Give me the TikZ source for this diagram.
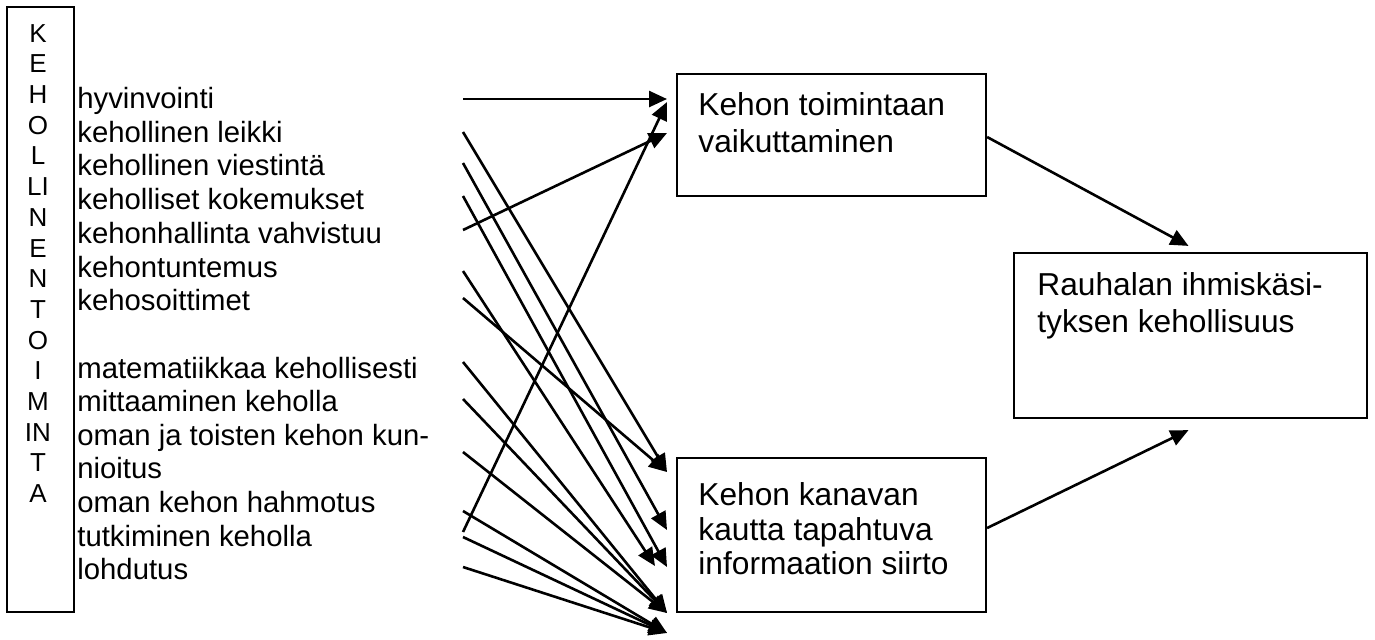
\documentclass[tikz,border=0pt]{standalone}
\usepackage{fontspec}
\setmainfont{Liberation Sans}
\usetikzlibrary{arrows.meta,calc}
\begin{document}
\begin{tikzpicture}[x=0.5pt,y=-0.5pt,
  frame/.style={draw=black, line width=1.1pt, rectangle, inner sep=0pt},
  listtext/.style={anchor=base west, inner sep=0pt, font=\fontsize{14.65pt}{16.7pt}\selectfont},
  boxtext/.style={anchor=base west, inner sep=0pt, font=\fontsize{15.85pt}{18pt}\selectfont},
  letter/.style={anchor=base, inner sep=0pt, font=\fontsize{13pt}{15pt}\selectfont},
  conn/.style={line width=1.3pt, -{Triangle[length=9pt,width=8pt]}}]
\useasboundingbox (0,0) rectangle (1375,639);

% vertical frame with letters
\node[frame, minimum width=33.5pt, minimum height=302.5pt] (side) at (40.5,309.5) {};
\foreach \t [count=\i from 0] in {K,E,H,O,L,LI,N,E,N,T,O,I,M,IN,T,A}
  \node[letter] (v\i) at (38,{42.3+30.67*\i}) {\t};

% list
\node[listtext] (i1) at (77,108.3) {hyvinvointi};
\node[listtext] (i2) at (77,142) {kehollinen leikki};
\node[listtext] (i3) at (77,175.8) {kehollinen viestintä};
\node[listtext] (i4) at (77,209.5) {keholliset kokemukset};
\node[listtext] (i5) at (77,243.3) {kehonhallinta vahvistuu};
\node[listtext] (i6) at (77,277) {kehontuntemus};
\node[listtext] (i7) at (77,310.8) {kehosoittimet};
\node[listtext] (i8) at (77,378) {matematiikkaa kehollisesti};
\node[listtext] (i9) at (77,411.6) {mittaaminen keholla};
\node[listtext] (i10) at (77,445.2) {oman ja toisten kehon kun-};
\node[listtext] (i10b) at (77,478.8) {nioitus};
\node[listtext] (i11) at (77,512.4) {oman kehon hahmotus};
\node[listtext] (i12) at (77,546) {tutkiminen keholla};
\node[listtext] (i13) at (77,579.6) {lohdutus};

% boxes
\node[frame, minimum width=154.5pt, minimum height=61pt] (b1) at (831.5,135) {};
\node[frame, minimum width=154.5pt, minimum height=77pt] (b2) at (831.5,535) {};
\node[frame, minimum width=176.5pt, minimum height=82.5pt] (r) at (1190.5,335.5) {};

\node[boxtext] (b1a) at (698,115) {Kehon toimintaan};
\node[boxtext] (b1b) at (698,152) {vaikuttaminen};
\node[boxtext] (b2a) at (698,505) {Kehon kanavan};
\node[boxtext] (b2b) at (698,540) {kautta tapahtuva};
\node[boxtext] (b2c) at (698,574) {informaation siirto};
\node[boxtext] (ra) at (1037,295) {Rauhalan ihmiskäsi-};
\node[boxtext] (rb) at (1037,332) {tyksen kehollisuus};

% start points
\coordinate (s1) at (463,99);
\coordinate (s2) at (463,132);
\coordinate (s3) at (463,163);
\coordinate (s4) at (463,196);
\coordinate (s5) at (463,230);
\coordinate (s6) at (463,271);
\coordinate (s7) at (463,298);
\coordinate (s8) at (463,362);
\coordinate (s9) at (463,399);
\coordinate (s10) at (463,452);
\coordinate (s11) at (463,511);
\coordinate (s12) at (463,532);
\coordinate (s13) at (463,537);
\coordinate (s14) at (463,567);

% tips
\coordinate (e1) at (667,99);
\coordinate (e2) at (667,133);
\coordinate (e3) at (667,102);
\coordinate (t1) at (667,472);
\coordinate (t2) at (667,530);
\coordinate (t3) at (667,567);
\coordinate (t3b) at (655,566);
\coordinate (t4) at (667,613);
\coordinate (t5) at (667,633);

\draw[conn] (s1) -- (e1);
\draw[conn] (s2) -- (t1);
\draw[conn] (s3) -- (t2);
\draw[conn] (s4) -- (t3);
\draw[conn] (s5) -- (e2);
\draw[conn] (s6) -- (t3b);
\draw[conn] (s7) -- (t1);
\draw[conn] (s8) -- (t4);
\draw[conn] (s9) -- (t4);
\draw[conn] (s10) -- (t4);
\draw[conn] (s11) -- (t5);
\draw[conn] (s12) -- (e3);
\draw[conn] (s13) -- (t5);
\draw[conn] (s14) -- (t5);

\draw[conn] ($(b1.east)+(0,2)$) -- ($(r.north)+(-2,-6)$);
\draw[conn] ($(b2.east)+(0,-7)$) -- ($(r.south)+(-2,11)$);
\end{tikzpicture}
\end{document}
